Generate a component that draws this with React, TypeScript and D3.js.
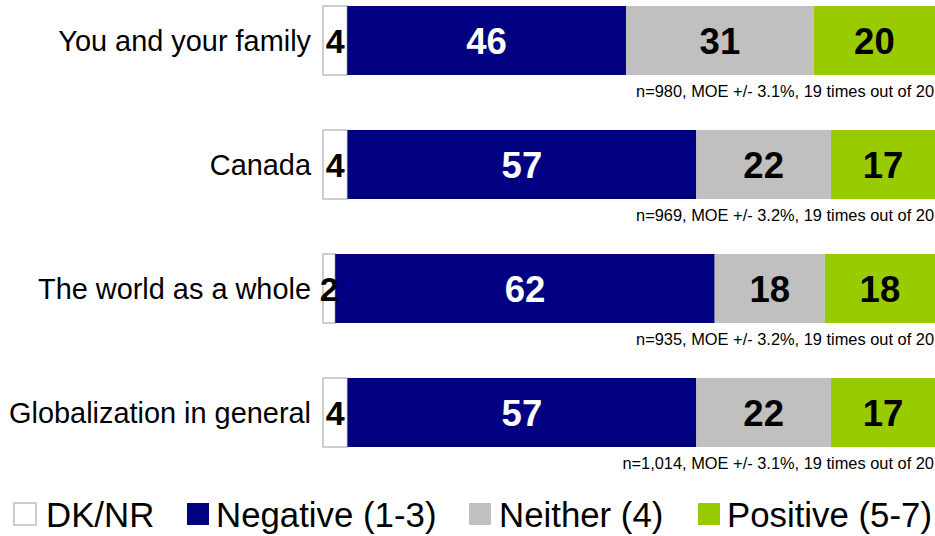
import React from "react";
import * as d3 from "d3";

const categories = ["You and your family", "Canada", "The world as a whole", "Globalization in general"];
const seriesNames = ["DK/NR", "Negative (1-3)", "Neither (4)", "Positive (5-7)"];
const dkValues = [4, 4, 2, 4];
const negativeValues = [46, 57, 62, 57];
const neitherValues = [31, 22, 18, 22];
const positiveValues = [20, 17, 18, 17];
const notes = [
  "n=980, MOE +/- 3.1%, 19 times out of 20",
  "n=969, MOE +/- 3.2%, 19 times out of 20",
  "n=935, MOE +/- 3.2%, 19 times out of 20",
  "n=1,014, MOE +/- 3.1%, 19 times out of 20",
];
const colors = ["#FFFFFF", "#000080", "#C0C0C0", "#99CC00"];
const labelColors = ["#000000", "#FFFFFF", "#000000", "#000000"];

const W = 935;
const H = 536;
const FONT = "'Liberation Sans', Arial, Helvetica, sans-serif";

export default function App() {
  const series = [dkValues, negativeValues, neitherValues, positiveValues];
  const x = d3.scaleLinear().domain([0, 1]).range([323, 935]);
  const y = d3.scalePoint().domain(categories).range([6, 378]);
  const barH = 69;

  const rows = categories.map((c, i) => {
    const vals = series.map((s) => s[i]);
    const total = d3.sum(vals);
    let acc = 0;
    const segs = vals.map((v, k) => {
      const x0 = acc / total;
      acc += v;
      const x1 = acc / total;
      return { k, v, x0, x1 };
    });
    return { c, i, segs };
  });

  const legendItems = [
    { sx: 14, tx: 46 },
    { sx: 187, tx: 216 },
    { sx: 469, tx: 499 },
    { sx: 698, tx: 727 },
  ];

  return (
    <svg width={W} height={H} style={{ position: "absolute", left: 0, top: 0, background: "#fff" }} fontFamily={FONT}>
      {rows.map((r) => {
        const top = y(r.c) as number;
        const cy = top + barH / 2;
        return (
          <g key={r.c}>
            <text x={311} y={cy} dy="0.35em" textAnchor="end" fontSize={28.9} fill="#000">
              {r.c}
            </text>
            {r.segs.map((s) => (
              <rect
                key={s.k}
                x={x(s.x0)}
                y={top}
                width={x(s.x1) - x(s.x0)}
                height={barH}
                fill={colors[s.k]}
                stroke={s.k === 0 ? "#BFBFBF" : "none"}
                strokeWidth={s.k === 0 ? 1.5 : 0}
              />
            ))}
            {r.segs.map((s) => (
              <text
                key={"l" + s.k}
                x={(x(s.x0) + x(s.x1)) / 2}
                y={cy}
                dy="0.36em"
                textAnchor="middle"
                fontSize={s.k === 0 ? 34 : 36.5}
                fontWeight="bold"
                fill={labelColors[s.k]}
              >
                {s.v}
              </text>
            ))}
            <text x={934} y={top + 91} textAnchor="end" fontSize={16.4} fill="#000">
              {notes[r.i]}
            </text>
          </g>
        );
      })}
      {seriesNames.map((n, k) => (
        <g key={n}>
          <rect
            x={legendItems[k].sx}
            y={503}
            width={22}
            height={22}
            fill={colors[k]}
            stroke={k === 0 ? "#BFBFBF" : "none"}
            strokeWidth={k === 0 ? 1.5 : 0}
          />
          <text x={legendItems[k].tx} y={527} fontSize={34.8} fill="#000">
            {n}
          </text>
        </g>
      ))}
    </svg>
  );
}
